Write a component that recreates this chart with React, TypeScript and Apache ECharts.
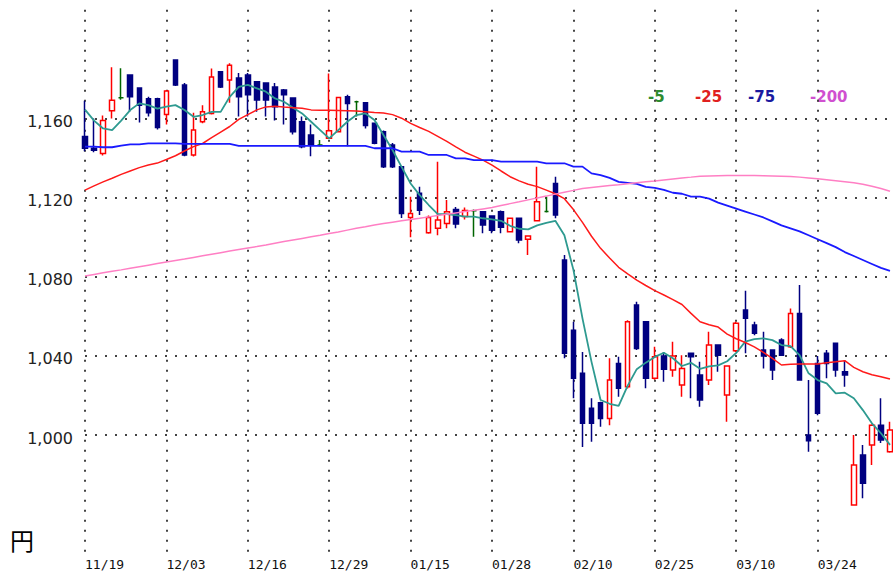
import React, { useEffect, useRef } from "react";
import * as echarts from "echarts";

const dates = [
  "11/19","11/20","11/24","11/25","11/26","11/27","11/30","12/01","12/02","12/03",
  "12/04","12/07","12/08","12/09","12/10","12/11","12/14","12/15","12/16","12/17",
  "12/18","12/21","12/22","12/23","12/24","12/25","12/28","12/29","12/30","01/04",
  "01/05","01/06","01/07","01/08","01/12","01/13","01/15","01/18","01/19","01/20",
  "01/21","01/22","01/25","01/26","01/27","01/28","01/29","02/01","02/02","02/03",
  "02/04","02/05","02/08","02/09","02/10","02/12","02/15","02/16","02/17","02/18",
  "02/19","02/22","02/24","02/25","02/26","03/01","03/02","03/03","03/04","03/05",
  "03/08","03/09","03/10","03/11","03/12","03/15","03/16","03/17","03/18","03/19",
  "03/23","03/24","03/25","03/26","03/29","03/30","03/31","04/01","04/02","04/05",
];

const opens = [
  1151,1145,1142.3,1164,1170.5,1182,1175.4,1170,1170,1162,
  1189.6,1177,1141.6,1158.4,1162.6,1183.7,1179.5,1180.5,1182,1178.6,
  1178,1176,1174.5,1170.4,1158.4,1151.7,1146.6,1150,1153.3,1171,
  1168.5,1168,1157.6,1153.3,1146.6,1135.6,1110,1122.3,1102.3,1104.5,
  1107,1114,1110.5,1113.4,1112.9,1110.7,1112.9,1102.8,1109.6,1099,
  1108.3,1113,1127.2,1088.5,1053,1031.2,1013.5,1016.3,1008.4,1036.2,
  1024.4,1065.7,1057.3,1028.7,1040,1032.9,1025.3,1041.3,1030.3,1027.8,
  1045.5,1020.2,1042.6,1063.2,1055.6,1043,1043,1048,1044.6,1061.5,
  1000,1036.2,1041.3,1046.4,1032,964.6,989.9,994.9,1005,991.6,
];

const closes = [
  1145,1144,1159,1169.3,1170.5,1171,1166.8,1163,1155.5,1174,
  1177,1141.6,1154.2,1163.4,1181,1176,1187,1171,1172,1169.4,
  1169.4,1166,1172,1153.3,1145.7,1146.7,1146.6,1153.8,1170.7,1167.6,
  1168.5,1156.5,1147.5,1135.6,1135.6,1112,1112,1113.7,1110,1108.7,
  1112.9,1106.7,1113.5,1113.4,1106.2,1103.6,1105,1109.6,1098.6,1100.6,
  1118,1113,1111.2,1041.3,1028.7,1005.9,1005.9,1008.4,1027.8,1023.6,
  1057.3,1043.8,1028.7,1039.6,1033.2,1040,1033.7,1039.6,1017.7,1045.5,
  1040.4,1034.9,1056.5,1059,1051.4,1040,1032.9,1040.4,1061.5,1027.8,
  997.1,1011,1036.2,1032.9,1030.3,984.8,975.6,1005,997.5,1002.5,
];

const lows = [
  1143.5,1143,1141.3,1160,1169.5,1163.5,1158,1161,1154.5,1157,
  1176.5,1141,1140.8,1157.7,1162,1175.5,1168,1161,1161,1163.5,
  1161,1159,1157,1152,1145,1141,1146,1150,1153,1146,
  1161,1155,1147,1135,1135,1109.7,1100,1111.2,1101.8,1101,
  1104.5,1104.6,1109,1100.3,1102,1102,1102,1102.5,1097,1091,
  1108,1112.5,1109.6,1038.8,1018.6,994,996.6,1004.2,1005,1019.4,
  1023.5,1043,1023.6,1028,1027,1029.5,1019.4,1018.6,1014.3,1025.3,
  1032,1006.7,1042,1041.3,1050.5,1033.7,1027.8,1040,1044,1027.5,
  991.6,1010,1028.7,1029.5,1024.4,964.6,968,984.8,996,991,
];

const highs = [
  1169,1160,1161.5,1186,1185.5,1182,1175.5,1171,1170.5,1174.5,
  1190,1178,1163,1166.8,1185.3,1184,1188,1183,1183,1179,
  1178,1178,1175,1170.5,1161,1157,1149.2,1182.8,1171,1172,
  1169,1168.4,1158,1154,1147.6,1135.6,1120.5,1125.5,1111,1138.2,
  1118.8,1115.3,1115,1114,1113,1111,1113.5,1110,1110,1101,
  1135.6,1120.5,1130.6,1091,1057.3,1042,1018.6,1016.8,1038.8,1039.6,
  1058,1067.4,1057.5,1044.6,1042,1047.2,1040.4,1041.5,1037,1052.2,
  1045.5,1035,1057.3,1073,1057.3,1052.2,1043,1048.9,1064,1075.8,
  1027.8,1040,1043,1046.4,1037.9,1000,994.9,1005.5,1018.6,1006.7,
];

const ma5 = [
  1164.5,1159,1155,1154.2,1159,1164.3,1167.7,1166.8,1165,1166,
  1166.8,1164.3,1160.9,1161.8,1163.4,1163.4,1171,1176,1177,1175.3,
  1173.6,1170.2,1168.5,1165.5,1162.6,1158.4,1154.2,1150,1154.2,1158.4,
  1161.8,1162.6,1159.3,1151.7,1144.1,1135.6,1127.2,1121.3,1116.3,1111.7,
  1111.7,1111.2,1110.4,1110.4,1109.6,1109,1108.3,1105.8,1104.3,1104,
  1106,1107.3,1108.3,1101,1083.5,1059,1037,1017.7,1015.8,1014.7,
  1025,1033.3,1036.6,1039.5,1041.6,1038.8,1034.9,1036.5,1033.5,1034.7,
  1035.2,1037.3,1041.5,1047.2,1048.5,1048.9,1048,1045.5,1045,1040.4,
  1031.2,1027.8,1026.1,1021.1,1021.4,1018.6,1012.6,1005.9,1000.9,995,
];

const ma25 = [
  1123.8,1126,1128,1129.8,1131.8,1133.5,1135.2,1136.5,1137.5,1139.3,
  1141.2,1143.6,1145.8,1147.4,1150.4,1153.2,1156,1159.6,1162,1164.4,
  1165.9,1166.2,1165.8,1165.5,1165.2,1164.4,1164.2,1164.2,1164.1,1164,
  1163.8,1163.5,1163.1,1162.8,1162,1160.2,1157.6,1155.5,1153.5,1151,
  1148.5,1145.7,1143,1141,1139,1136.5,1133.5,1130.6,1128.5,1126.8,
  1125.6,1123.8,1122,1119.5,1114,1107.5,1100.5,1094.4,1089.5,1084.8,
  1081.5,1078.3,1075.6,1073,1070.8,1068.5,1066,1061.5,1057.3,1055.8,
  1054.6,1051,1048.7,1046.8,1044.6,1041.8,1038.8,1035.4,1035.8,1035.9,
  1035.9,1035.9,1036.5,1037,1037.6,1034.2,1032,1030.5,1029.5,1028.3,
];

const ma75 = [
  1145.8,1145.8,1145.5,1145.5,1146.3,1147,1147,1147.5,1147.5,1147.5,
  1147.5,1147.2,1147.2,1147.2,1147.2,1147.2,1147.2,1146.2,1146.2,1146.2,
  1146.2,1146.2,1146.2,1146.2,1146.2,1146.2,1146.2,1146.2,1146.2,1146.2,
  1146.2,1146.2,1145,1145,1145,1143.3,1143.3,1143.3,1141.6,1141.6,
  1141.6,1139.9,1139.9,1139,1139,1139,1138.2,1138.2,1138.2,1138.2,
  1138.2,1137.4,1137.4,1137.4,1135.7,1135.7,1132.3,1131.4,1130,1128,
  1127.5,1127,1125.5,1125,1124,1122.5,1122,1120.5,1120.5,1119.5,
  1117.5,1116,1114.5,1113,1111.5,1110,1108,1106,1104.5,1103,
  1101,1099,1097,1095,1092.5,1090.5,1088.5,1086.5,1084.5,1083,
];

const ma200 = [
  1080.4,1081.2,1082,1082.8,1083.5,1084.3,1085.1,1085.9,1086.7,1087.5,
  1088.3,1089,1089.8,1090.6,1091.4,1092.2,1093,1093.8,1094.6,1095.3,
  1096.1,1097,1097.8,1098.6,1099.4,1100.2,1101,1101.9,1102.7,1103.6,
  1104.5,1105.3,1106.2,1106.9,1107.6,1108.3,1109,1109.6,1110.3,1111,
  1111.6,1112.3,1113,1113.6,1114.3,1115,1116,1117,1117.9,1118.9,
  1119.9,1120.8,1121.8,1122.8,1123.7,1124.7,1125.2,1125.7,1126.2,1126.6,
  1127.1,1127.6,1128.1,1128.5,1129,1129.5,1130,1130.4,1130.9,1131,
  1131.1,1131.2,1131.2,1131.2,1131.2,1131.1,1131,1130.9,1130.7,1130.4,
  1130,1129.6,1129.1,1128.6,1128.1,1127.6,1126.8,1125.8,1124.6,1123.3,
];

const yTicks = [1000, 1040, 1080, 1120, 1160];
const legendLabels = ["-5", "-25", "-75", "-200"];
const unitLabel = "円";

const UP_BORDER = "#ff0000";
const DOWN = "#000080";
const DOJI = "#006400";
const MA_COLORS = ["#2e9a90", "#ff1a1a", "#1a1aff", "#ff7fc4"];
const LEGEND_COLORS = ["#2e8b2e", "#e02020", "#1a1aa0", "#d050d0"];
const LEGEND_X = [648, 695, 748, 810];

export default function App() {
  const ref = useRef<HTMLDivElement>(null);

  useEffect(() => {
    if (!ref.current) return;
    const chart = echarts.init(ref.current, undefined, { renderer: "svg" });

    const candleData = dates.map((_, i) => {
      const v = [opens[i], closes[i], lows[i], highs[i]];
      if (opens[i] === closes[i]) {
        return {
          value: v,
          itemStyle: { color: DOJI, color0: DOJI, borderColor: DOJI, borderColor0: DOJI },
        };
      }
      return v;
    });

    const dotted = { type: [2, 8] as any, color: "#444", width: 2 };
    const maSeries = [ma5, ma25, ma75, ma200].map((d, k) => ({
      type: "line",
      data: d,
      symbol: "none",
      showSymbol: false,
      silent: true,
      z: 3,
      lineStyle: { color: MA_COLORS[k], width: k === 0 || k === 2 ? 1.8 : 1.5 },
    }));

    chart.setOption({
      animation: false,
      backgroundColor: "#ffffff",
      grid: { left: 85, right: 3, top: 9.8, bottom: 17.3, containLabel: false, outerBoundsMode: "none" },
      xAxis: {
        type: "category",
        data: dates,
        boundaryGap: false,
        axisLine: { show: false },
        axisTick: { show: false },
        axisLabel: {
          interval: 8,
          align: "left",
          fontFamily: "DejaVu Sans Mono",
          fontSize: 13,
          color: "#111",
          margin: 4,
        },
        splitLine: { show: true, interval: 8, lineStyle: dotted },
      },
      yAxis: {
        type: "value",
        min: 940,
        max: 1215,
        axisLine: { show: false },
        axisTick: { show: false, customValues: yTicks },
        axisLabel: {
          customValues: yTicks,
          formatter: (v: number) => v.toLocaleString("en-US"),
          fontFamily: "DejaVu Sans",
          fontSize: 16,
          color: "#222",
          margin: 12,
          verticalAlign: "top",
          lineHeight: 16,
          padding: [-5, 0, 0, 0],
        },
        splitLine: { show: true, lineStyle: dotted },
      },
      series: [
        {
          type: "candlestick",
          data: candleData,
          barWidth: 5,
          clip: false,
          z: 2,
          itemStyle: {
            color: "#ffffff",
            color0: DOWN,
            borderColor: UP_BORDER,
            borderColor0: DOWN,
            borderWidth: 1.5,
          },
        },
        ...maSeries,
      ],
      graphic: [
        ...legendLabels.map((t, k) => ({
          type: "text",
          x: LEGEND_X[k],
          y: 97,
          silent: true,
          style: {
            text: t,
            fill: LEGEND_COLORS[k],
            font: 'bold 15px "DejaVu Sans"',
            verticalAlign: "middle",
          },
        })),
        {
          type: "text",
          x: 10,
          y: 539,
          silent: true,
          style: {
            text: unitLabel,
            fill: "#000",
            font: '24px "Noto Sans CJK JP"',
            verticalAlign: "middle",
          },
        },
      ],
    });

    return () => chart.dispose();
  }, []);

  return (
    <div
      ref={ref}
      style={{ position: "absolute", left: 0, top: 0, width: 893, height: 571, background: "#fff" }}
    />
  );
}
